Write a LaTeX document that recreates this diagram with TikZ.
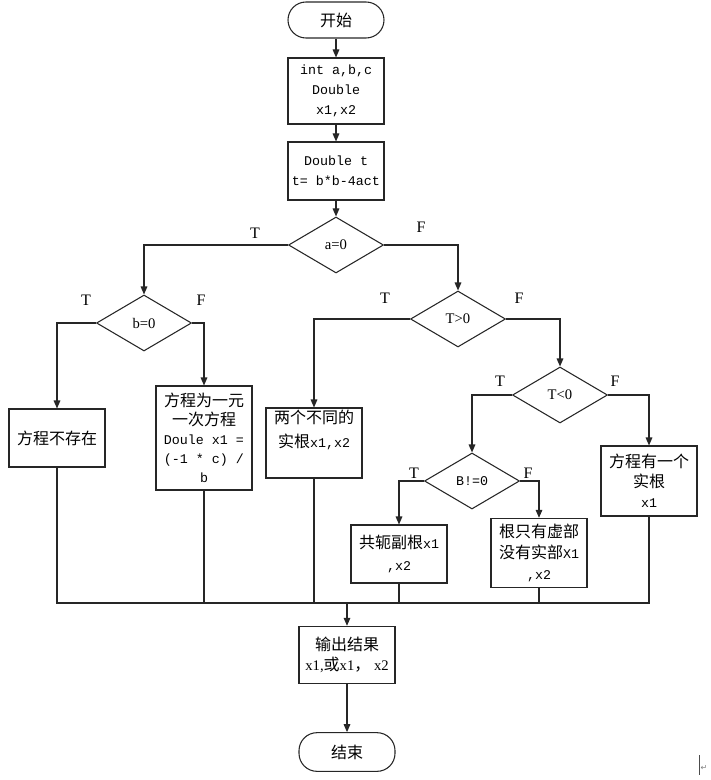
\documentclass[tikz,border=0pt]{standalone}
\usepackage{fontspec}
\setmainfont{Liberation Serif}
\newfontfamily\zhfont{Noto Sans CJK SC}
\newfontfamily\codefont{Liberation Mono}
\newfontfamily\symfont{DejaVu Sans}
\usetikzlibrary{shapes.geometric,arrows.meta}
\newcommand\zh[1]{{\zhfont\fontsize{12}{15}\selectfont #1}}
\tikzset{
  base/.style={draw=black!85, line width=0.8pt, inner sep=0pt, align=center,
    font=\codefont\fontsize{10}{15}\selectfont},
  proc/.style={base, rectangle, minimum width=72pt},
  term/.style={base, rectangle, rounded corners=13.5pt, minimum width=72pt},
  dec/.style={base, diamond, minimum width=71.25pt, minimum height=42pt,
    font=\rmfamily\fontsize{11}{13}\selectfont},
  lab/.style={font=\rmfamily\fontsize{12}{14}\selectfont, inner sep=0pt},
  flow/.style={draw=black!85, line width=0.8pt, -{Triangle[length=6pt,width=5pt]}},
  link/.style={draw=black!85, line width=0.8pt}
}
\begin{document}
\begin{tikzpicture}[x=0.75pt,y=-0.75pt]
\useasboundingbox (0,0) rectangle (710,780);
% nodes
\node[term, minimum height=27pt] (start) at (336,20) {\zh{开始}};
\node[proc, minimum height=49.5pt] (b1) at (336,91) {int a,b,c\\Double\\x1,x2};
\node[proc, minimum height=43.5pt] (b2) at (336,171) {Double t\\t= b*b-4act};
\node[dec] (d1) at (336,245) {a=0};
\node[dec] (d2) at (144,323) {b=0};
\node[proc, minimum height=43.5pt] (r1) at (57,438) {\zh{方程不存在}};
\node[proc, minimum height=78pt, font=\codefont\fontsize{10}{14.25}\selectfont] (r2) at (204,438)
  {\zh{方程为一元}\\\zh{一次方程}\\Doule x1 =\\(-1 * c) /\\b};
\node[proc, minimum height=52.5pt] (r3) at (314,443) {};
\node[inner sep=0pt, align=center, font=\codefont\fontsize{10}{18}\selectfont] (r3t) at (314,430)
  {\zh{两个不同的}\\\zh{实根}x1,x2};
\node[dec] (d3) at (458,319) {T>0};
\node[dec] (d4) at (560,395) {T<0};
\node[proc, minimum height=52.5pt] (r4) at (649,481) {\zh{方程有一个}\\\zh{实根}\\x1};
\node[dec, font=\codefont\fontsize{10}{13}\selectfont] (d5) at (472,481) {B!=0};
\node[proc, minimum height=43.5pt, font=\codefont\fontsize{10}{16}\selectfont] (r5) at (399,554) {\zh{共轭副根}x1\\,x2};
\node[proc, minimum height=52pt, font=\codefont\fontsize{10}{15.5}\selectfont] (r6) at (539,553) {\zh{根只有虚部}\\\zh{没有实部}X1\\,x2};
\node[proc, minimum height=43pt, font=\rmfamily\fontsize{11}{15}\selectfont] (out) at (347,655) {\zh{输出结果}\\x1,\zh{或}x1\zh{，} x2};
\node[term, minimum height=29pt] (end) at (347,752) {\zh{结束}};
% labels
\node[lab] (l1t) at (255,233) {T};
\node[lab] (l1f) at (421,227) {F};
\node[lab] (l2t) at (86,300) {T};
\node[lab] (l2f) at (201,300) {F};
\node[lab] (l3t) at (385,298) {T};
\node[lab] (l3f) at (519,298) {F};
\node[lab] (l4t) at (500,381) {T};
\node[lab] (l4f) at (615,381) {F};
\node[lab] (l5t) at (414,473) {T};
\node[lab] (l5f) at (528,473) {F};
% connectors
\draw[flow] (start) -- (b1);
\draw[flow] (b1) -- (b2);
\draw[flow] (b2) -- (d1);
\draw[flow] (d1.west) -| (d2.north);
\draw[flow] (d1.east) -| (d3.north);
\draw[flow] (d2.west) -| (r1.north);
\draw[flow] (d2.east) -| (r2.north);
\draw[flow] (d3.west) -| (r3.north);
\draw[flow] (d3.east) -| (d4.north);
\draw[flow] (d4.west) -| (d5.north);
\draw[flow] (d4.east) -| (r4.north);
\draw[flow] (d5.west) -| (r5.north);
\draw[flow] (d5.east) -| (r6.north);
\coordinate (bus) at (347,603);
\draw[link] (r1.south) |- (bus) -| (r4.south);
\draw[link] (r2.south) -- (r2.south |- bus);
\draw[link] (r3.south) -- (r3.south |- bus);
\draw[link] (r5.south) -- (r5.south |- bus);
\draw[link] (r6.south) -- (r6.south |- bus);
\draw[flow] (bus) -- (out.north);
\draw[flow] (out) -- (end);
% paragraph mark
\coordinate (pm1) at (699,755);
\coordinate (pm2) at (699,775);
\draw[black!70, line width=0.6pt] (pm1) -- (pm2);
\node[inner sep=0pt, text=black!50, font=\symfont\fontsize{6}{6}\selectfont] (pm) at (704,768) {↵};
\end{tikzpicture}
\end{document}
